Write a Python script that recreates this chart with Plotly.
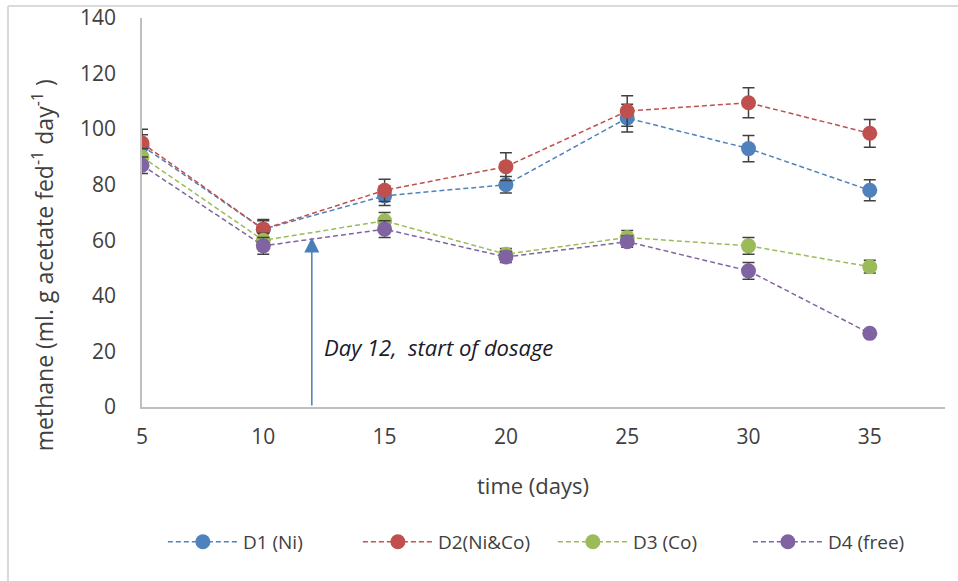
import plotly.graph_objects as go

days = [5, 10, 15, 20, 25, 30, 35]
d1_ni = [94, 64, 76, 80, 104, 93, 78]
d2_nico = [95, 64, 78, 86.5, 106.5, 109.5, 98.5]
d3_co = [90, 60, 67, 55, 61, 58, 50.5]
d4_free = [87, 58, 64, 54, 59.5, 49, 26.5]
d1_err = [4, 3, 3.5, 3, 5, 4.7, 3.8]
d2_err = [5, 3.5, 4, 5, 5.5, 5.4, 5]
d3_err = [3, 2.5, 3, 2, 2.5, 3, 2.3]
d4_err = [3, 3, 3, 2, 2, 3, 1]
names = ["D1 (Ni)", "D2(Ni&Co)", "D3 (Co)", "D4 (free)"]
colors = ["#4F81BD", "#C0504D", "#9BBB59", "#8064A2"]
series = [d1_ni, d2_nico, d3_co, d4_free]
errs = [d1_err, d2_err, d3_err, d4_err]
x_ticks = [5, 10, 15, 20, 25, 30, 35]
y_ticks = [0, 20, 40, 60, 80, 100, 120, 140]
dosage_day = 12
dosage_arrow_top = 61

FONT = "'Open Sans', sans-serif"
TXT = "#404040"

fig = go.Figure()
for name, c, ys, e in zip(names, colors, series, errs):
    fig.add_trace(go.Scatter(
        x=days, y=ys, name=name, mode="lines+markers",
        line=dict(color=c, width=1.5, dash="5px,3px"),
        marker=dict(color=c, size=15, symbol="circle"),
        error_y=dict(type="data", array=e, color="#404040", thickness=1.5, width=6),
    ))

fig.add_annotation(
    x=dosage_day, y=dosage_arrow_top, ax=dosage_day, ay=0,
    xref="x", yref="y", axref="x", ayref="y",
    showarrow=True, arrowhead=2, arrowsize=2, arrowwidth=1.5,
    arrowcolor="#4A7EBB", text="",
)
fig.add_annotation(
    x=12.4, y=21.5, xref="x", yref="y", xanchor="left", yanchor="middle",
    showarrow=False, text="<i>Day 12,  start of dosage</i>",
    font=dict(family=FONT, size=22, color="#1a1a2a"),
)
# axis titles (placed as in the reference)
fig.add_annotation(
    x=0.487, y=-0.2005, xref="paper", yref="paper", xanchor="center", yanchor="middle",
    showarrow=False, text="time (days)", font=dict(family=FONT, size=22, color=TXT),
)
fig.add_annotation(
    x=-0.123, y=0.365, xref="paper", yref="paper", xanchor="center", yanchor="middle",
    showarrow=False, textangle=-90,
    text="methane (ml. g acetate fed<sup>-1</sup> day<sup>-1</sup> )",
    font=dict(family=FONT, size=23, color=TXT),
)

fig.update_layout(
    width=958, height=581,
    margin=dict(l=142, r=13, t=18, b=174, autoexpand=False),
    paper_bgcolor="white", plot_bgcolor="white",
    font=dict(family=FONT, size=21, color=TXT),
    showlegend=True,
    legend=dict(orientation="h", x=0.026, xanchor="left", y=-0.298, yanchor="top",
                font=dict(size=19, color=TXT), traceorder="normal",
                itemwidth=70, entrywidth=110, entrywidthmode="pixels"),
    shapes=[
        dict(type="line", xref="paper", yref="paper", x0=-0.1669, x1=1.0162, y0=1.0308, y1=1.0308,
             line=dict(color="#DADADA", width=2)),
        dict(type="line", xref="paper", yref="paper", x0=-0.1669, x1=-0.1669, y0=-0.447, y1=1.0308,
             line=dict(color="#DADADA", width=2)),
    ],
)
fig.update_xaxes(
    range=[5, 38.1], tickvals=x_ticks, ticktext=[str(t) for t in x_ticks],
    showline=True, linecolor="#BFBFBF", linewidth=1.5, showgrid=False, zeroline=False,
    ticks="", ticklabelstandoff=10, automargin=False,
)
fig.update_yaxes(
    range=[0, 140], tickvals=y_ticks,
    showline=True, linecolor="#BFBFBF", linewidth=1.5, showgrid=False, zeroline=False,
    ticks="", ticklabelstandoff=20, automargin=False,
)

fig.write_html("out.html")
